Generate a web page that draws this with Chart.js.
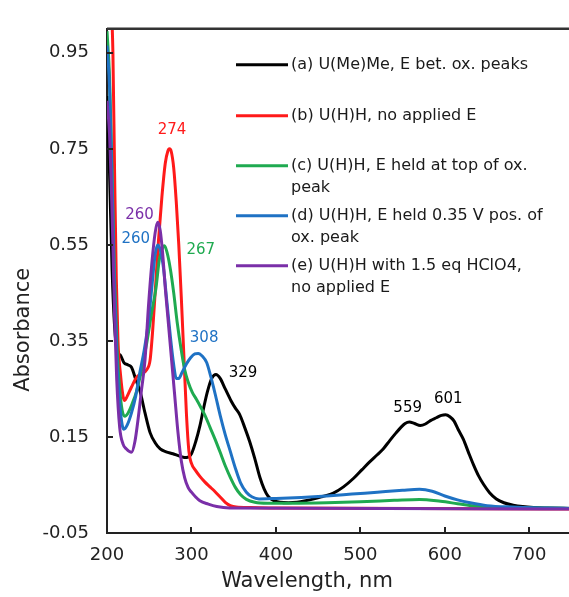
<!DOCTYPE html>
<html>
<head>
<meta charset="utf-8">
<script src="https://cdn.jsdelivr.net/npm/chart.js@4/dist/chart.umd.min.js"></script>
<style>
  html, body { margin: 0; padding: 0; overflow: hidden; background: #fff; }
</style>
</head>
<body>
<canvas id="uvChart" width="575" height="597"></canvas>
<script>
// Ticks
var xTicks = [200, 300, 400, 500, 600, 700];
var yTicks = [-0.05, 0.15, 0.35, 0.55, 0.75, 0.95];

// (a) U(Me)Me
var aNm = [200, 203, 206, 209, 212, 216, 220, 225, 229, 234, 239, 245, 251, 257, 263, 270, 278, 286, 292, 296, 300, 305, 310, 315, 319, 324, 329, 334, 340, 347, 352, 357, 363, 369, 375, 381, 386, 391, 397, 405, 415, 425, 435, 445, 455, 468, 480, 492, 502, 511, 520, 527, 535, 542, 548, 553, 558, 564, 571, 577, 583, 590, 596, 601, 606, 611, 616, 622, 628, 634, 640, 646, 653, 661, 670, 681, 692, 705, 720, 750];
var aAbs = [0.86, 0.70, 0.50, 0.38, 0.33, 0.32, 0.305, 0.30, 0.295, 0.27, 0.246, 0.20, 0.159, 0.138, 0.125, 0.119, 0.115, 0.110, 0.107, 0.108, 0.115, 0.14, 0.173, 0.215, 0.245, 0.272, 0.28, 0.272, 0.25, 0.225, 0.21, 0.197, 0.17, 0.14, 0.105, 0.066, 0.042, 0.026, 0.018, 0.014, 0.013, 0.014, 0.017, 0.021, 0.026, 0.033, 0.046, 0.064, 0.082, 0.098, 0.113, 0.125, 0.143, 0.158, 0.170, 0.178, 0.181, 0.178, 0.174, 0.177, 0.184, 0.190, 0.195, 0.196, 0.192, 0.183, 0.165, 0.145, 0.118, 0.092, 0.069, 0.051, 0.034, 0.021, 0.013, 0.008, 0.005, 0.003, 0.002, 0.001];

// (b) U(H)H, no applied E
var bNm = [200, 204, 207, 209, 211, 213, 216, 219, 221, 224, 229, 235, 241, 247, 251, 254, 257, 261, 265, 269, 272, 274, 276, 279, 282, 285, 288, 291, 294, 297, 300, 305, 310, 316, 322, 328, 334, 340, 346, 353, 370, 400, 750];
var bAbs = [1.15, 1.08, 0.95, 0.70, 0.48, 0.35, 0.28, 0.235, 0.226, 0.235, 0.254, 0.274, 0.282, 0.29, 0.31, 0.37, 0.45, 0.56, 0.65, 0.72, 0.745, 0.75, 0.745, 0.71, 0.64, 0.55, 0.44, 0.32, 0.20, 0.12, 0.095, 0.08, 0.068, 0.056, 0.046, 0.036, 0.025, 0.014, 0.007, 0.004, 0.003, 0.002, 0.0];

// (c) U(H)H, E held at top of ox. peak
var cNm = [200, 203, 206, 209, 212, 215, 218, 221, 225, 230, 235, 241, 247, 253, 258, 262, 266, 268, 271, 275, 279, 283, 288, 292, 296, 301, 306, 311, 316, 322, 328, 334, 340, 346, 352, 358, 365, 375, 390, 420, 460, 500, 540, 570, 595, 615, 635, 660, 700, 750];
var cAbs = [0.995, 0.90, 0.70, 0.48, 0.33, 0.25, 0.205, 0.193, 0.20, 0.22, 0.245, 0.29, 0.345, 0.41, 0.46, 0.52, 0.545, 0.548, 0.535, 0.50, 0.45, 0.39, 0.33, 0.29, 0.265, 0.243, 0.228, 0.212, 0.195, 0.17, 0.145, 0.118, 0.09, 0.066, 0.045, 0.03, 0.02, 0.014, 0.012, 0.012, 0.013, 0.015, 0.018, 0.02, 0.016, 0.011, 0.006, 0.003, 0.002, 0.001];

// (d) U(H)H, E held 0.35 V pos. of ox. peak
var dNm = [200, 203, 206, 209, 212, 215, 218, 220, 224, 229, 234, 239, 244, 249, 253, 257, 260, 263, 267, 271, 275, 279, 282, 285, 289, 294, 299, 304, 308, 313, 318, 323, 328, 334, 340, 346, 352, 358, 365, 372, 380, 400, 430, 460, 490, 520, 550, 570, 585, 600, 615, 630, 650, 680, 720, 750];
var dAbs = [0.965, 0.88, 0.68, 0.45, 0.30, 0.22, 0.175, 0.166, 0.175, 0.20, 0.235, 0.285, 0.33, 0.39, 0.46, 0.53, 0.55, 0.54, 0.50, 0.43, 0.36, 0.30, 0.272, 0.272, 0.285, 0.302, 0.315, 0.323, 0.324, 0.318, 0.305, 0.275, 0.24, 0.195, 0.155, 0.12, 0.085, 0.055, 0.035, 0.025, 0.021, 0.022, 0.024, 0.027, 0.031, 0.035, 0.039, 0.041, 0.037, 0.027, 0.019, 0.013, 0.007, 0.004, 0.002, 0.001];

// (e) U(H)H with 1.5 eq HClO4
var eNm = [200, 203, 205, 207, 209, 211.5, 215, 219, 223, 229, 233, 237, 241, 245, 249, 253, 257, 260, 263, 266, 269, 272, 276, 280, 284, 288, 292, 296, 300, 305, 310, 320, 330, 345, 750];
var eAbs = [0.85, 0.78, 0.68, 0.55, 0.40, 0.27, 0.17, 0.135, 0.125, 0.118, 0.14, 0.19, 0.25, 0.31, 0.42, 0.51, 0.575, 0.597, 0.58, 0.53, 0.46, 0.40, 0.32, 0.24, 0.16, 0.10, 0.065, 0.045, 0.035, 0.025, 0.017, 0.010, 0.005, 0.002, 0.0];

var seriesLabels = [
    ['(a) U(Me)Me, E bet. ox. peaks'],
    ['(b) U(H)H, no applied E'],
    ['(c) U(H)H, E held at top of ox.', 'peak'],
    ['(d) U(H)H, E held 0.35 V pos. of', 'ox. peak'],
    ['(e) U(H)H with 1.5 eq HClO4,', 'no applied E']
];

// Peak labels (text, wavelength, absorbance of label centre)
var peakText = ['274', '260', '260', '267', '308', '329', '559', '601'];
var peakNm = [277, 238.5, 234, 311, 315, 361, 556, 604];
var peakAbs = [0.79, 0.612, 0.561, 0.539, 0.355, 0.284, 0.21, 0.228];
var peakSeries = [1, 4, 3, 2, 3, 0, 0, 0];

var xTitle = 'Wavelength, nm';
var yTitle = 'Absorbance';

var colors = ['#000000', '#ff1a1a', '#1faa50', '#1f72c4', '#7a2fa8'];
var FONT = '"DejaVu Sans", sans-serif';

function toPoints(xs, ys) {
    var pts = [];
    for (var i = 0; i < xs.length; i++) {
        pts.push({x: xs[i], y: ys[i]});
    }
    return pts;
}

var allNm = [aNm, bNm, cNm, dNm, eNm];
var allAbs = [aAbs, bAbs, cAbs, dAbs, eAbs];
var drawOrder = [4, 3, 2, 1, 0];

var datasets = [];
for (var i = 0; i < 5; i++) {
    datasets.push({
        label: seriesLabels[i].join(' '),
        data: toPoints(allNm[i], allAbs[i]),
        borderColor: colors[i],
        borderWidth: 3,
        pointRadius: 0,
        fill: false,
        cubicInterpolationMode: 'monotone',
        order: drawOrder[i]
    });
}

// ticks vers l'intérieur, cadre du haut, titres, légende et étiquettes de pics
var decorPlugin = {
    id: 'decor',
    afterDraw: function(chart) {
        var ctx = chart.ctx;
        var area = chart.chartArea;
        var xs = chart.scales.x;
        var ys = chart.scales.y;
        ctx.save();

        // frame top
        ctx.strokeStyle = '#333';
        ctx.lineWidth = 2.5;
        ctx.beginPath();
        ctx.moveTo(area.left, area.top);
        ctx.lineTo(area.right + 5, area.top);
        ctx.stroke();

        // inward ticks
        ctx.lineWidth = 2;
        ctx.strokeStyle = '#222';
        ctx.beginPath();
        xTicks.forEach(function(v) {
            var px = Math.round(xs.getPixelForValue(v));
            ctx.moveTo(px, area.bottom);
            ctx.lineTo(px, area.bottom - 6);
        });
        yTicks.forEach(function(v) {
            var py = Math.round(ys.getPixelForValue(v));
            ctx.moveTo(area.left, py);
            ctx.lineTo(area.left + 6, py);
        });
        ctx.stroke();

        // axis titles
        ctx.fillStyle = '#222';
        ctx.font = '21px ' + FONT;
        ctx.textAlign = 'center';
        ctx.textBaseline = 'middle';
        ctx.fillText(xTitle, area.left + 200, area.bottom + 49);
        ctx.save();
        ctx.translate(area.left - 83, area.top + 301);
        ctx.rotate(-Math.PI / 2);
        ctx.fillText(yTitle, 0, 0);
        ctx.restore();

        // legend
        ctx.font = '16px ' + FONT;
        ctx.textAlign = 'left';
        var rows = [36, 87, 137, 187, 237];
        for (var i = 0; i < seriesLabels.length; i++) {
            var y = area.top + rows[i];
            ctx.strokeStyle = colors[i];
            ctx.lineWidth = 3;
            ctx.beginPath();
            ctx.moveTo(area.left + 129, y);
            ctx.lineTo(area.left + 181, y);
            ctx.stroke();
            ctx.fillStyle = '#1a1a1a';
            for (var k = 0; k < seriesLabels[i].length; k++) {
                ctx.fillText(seriesLabels[i][k], area.left + 184, y + k * 22);
            }
        }

        // peak labels
        ctx.font = '15px ' + FONT;
        ctx.textAlign = 'center';
        for (var j = 0; j < peakText.length; j++) {
            ctx.fillStyle = colors[peakSeries[j]];
            ctx.fillText(peakText[j], xs.getPixelForValue(peakNm[j]), ys.getPixelForValue(peakAbs[j]));
        }
        ctx.restore();
    }
};

var ctx = document.getElementById('uvChart').getContext('2d');
var myChart = new Chart(ctx, {
    type: 'line',
    data: { datasets: datasets },
    options: {
        responsive: false,
        animation: false,
        devicePixelRatio: 1,
        layout: { padding: { top: 15, right: 3.5, left: 0, bottom: 0 } },
        plugins: {
            legend: { display: false },
            tooltip: { enabled: false }
        },
        scales: {
            x: {
                type: 'linear',
                min: 200,
                max: 750,
                afterBuildTicks: function(scale) {
                    scale.ticks = xTicks.map(function(v) { return {value: v}; });
                },
                afterFit: function(scale) { scale.height = 64; },
                grid: { display: true, drawOnChartArea: false, drawTicks: false },
                border: { display: true, color: '#222', width: 2 },
                ticks: {
                    padding: 12,
                    color: '#222',
                    font: { family: FONT, size: 18 },
                    maxRotation: 0
                }
            },
            y: {
                type: 'linear',
                min: -0.05,
                max: 1.0,
                afterBuildTicks: function(scale) {
                    scale.ticks = yTicks.map(function(v) { return {value: v}; });
                },
                afterFit: function(scale) { scale.width = 107; },
                grid: { display: true, drawOnChartArea: false, drawTicks: false },
                border: { display: true, color: '#222', width: 2 },
                ticks: {
                    padding: 18,
                    color: '#222',
                    font: { family: FONT, size: 18 },
                    callback: function(v) { return v.toFixed(2); }
                }
            }
        }
    },
    plugins: [decorPlugin]
});
</script>
</body>
</html>
